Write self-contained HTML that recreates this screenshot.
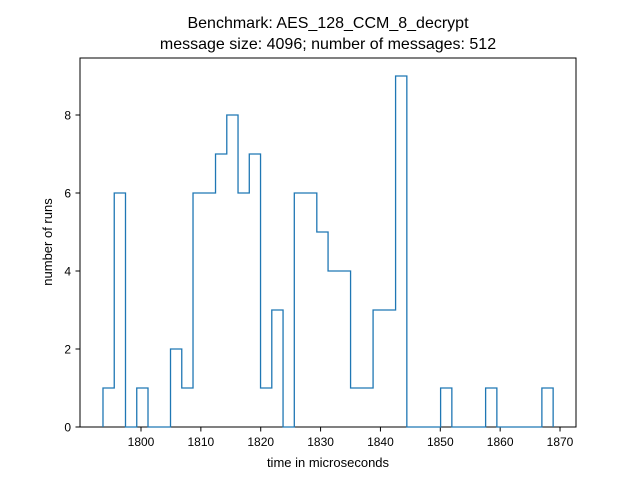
<!DOCTYPE html>
<html><head><meta charset="utf-8"><style>body{margin:0;background:#fff}svg{display:block;font-family:"Liberation Sans",sans-serif}</style></head>
<body>
<svg id="c" width="640" height="480">
<text x="328" y="28" text-anchor="middle" font-size="16">Benchmark: AES_128_CCM_8_decrypt</text>
<text x="328" y="49" text-anchor="middle" font-size="16">message size: 4096; number of messages: 512</text>
<rect x="80" y="58" width="496" height="369" fill="none" stroke="#000" stroke-width="1"/>
<g id="xt"></g><g id="yt"></g>
<path id="h" fill="none" stroke="#1f77b4" stroke-width="1.3"/>
<text x="328" y="467" text-anchor="middle" font-size="13">time in microseconds</text>
<text x="0" y="0" transform="translate(52,242) rotate(-90)" text-anchor="middle" font-size="13">number of runs</text>
</svg>
<script>
const binStart = 1793.65;
const binWidth = 1.88;
const counts = [1,6,0,1,0,0,2,1,6,6,7,8,6,7,1,3,0,6,6,5,4,4,1,1,3,3,9,0,0,0,1,0,0,0,1,0,0,0,0,1];
const xTicks = [1800,1810,1820,1830,1840,1850,1860,1870];
const yTicks = [0,2,4,6,8];
const X = v => 141 + (v - 1800) * 5.986;
const Y = v => 427 - v * 39;
const ns = "http://www.w3.org/2000/svg";
let d = "M" + X(binStart) + "," + Y(0);
counts.forEach((c, i) => {
  const x0 = X(binStart + i * binWidth), x1 = X(binStart + (i + 1) * binWidth);
  d += " L" + x0 + "," + Y(c) + " L" + x1 + "," + Y(c);
});
d += " L" + X(binStart + counts.length * binWidth) + "," + Y(0);
document.getElementById("h").setAttribute("d", d);
const xt = document.getElementById("xt");
xTicks.forEach(t => {
  const l = document.createElementNS(ns, "line");
  l.setAttribute("x1", X(t)); l.setAttribute("x2", X(t));
  l.setAttribute("y1", 427); l.setAttribute("y2", 431.5); l.setAttribute("stroke", "#000");
  
  
  xt.appendChild(l);
  const s = document.createElementNS(ns, "text");
  s.setAttribute("x", X(t)); s.setAttribute("y", 446); s.setAttribute("text-anchor", "middle"); s.setAttribute("font-size", "12");
  s.textContent = t;
  
  
  xt.appendChild(s);
});
const yt = document.getElementById("yt");
yTicks.forEach(t => {
  const l = document.createElementNS(ns, "line");
  l.setAttribute("x1", 75.5); l.setAttribute("x2", 80);
  l.setAttribute("y1", Y(t)); l.setAttribute("y2", Y(t)); l.setAttribute("stroke", "#000");
  
  
  yt.appendChild(l);
  const s = document.createElementNS(ns, "text");
  s.setAttribute("x", 71); s.setAttribute("y", Y(t) + 4.5); s.setAttribute("text-anchor", "end"); s.setAttribute("font-size", "12");
  s.textContent = t;
  
  
  yt.appendChild(s);
});
</script>
</body></html>
